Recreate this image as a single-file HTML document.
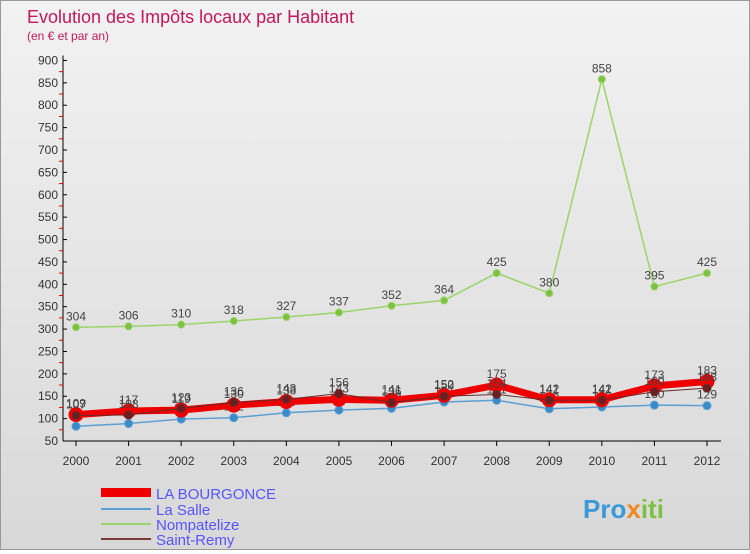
<!DOCTYPE html>
<html><head><meta charset="utf-8"><style>
body{margin:0;width:750px;height:550px;overflow:hidden;font-family:"Liberation Sans",sans-serif}
#wrap{position:relative;width:748px;height:548px;border:1px solid #999;background:linear-gradient(#f2f2f2,#d8d8d8)}
</style></head><body><div id="wrap">
<svg id="svg" width="748" height="548" xmlns="http://www.w3.org/2000/svg">
<text x="26" y="22" font-size="18" fill="#c2185b">Evolution des Impôts locaux par Habitant</text>
<text x="26" y="39" font-size="12" fill="#c2185b">(en € et par an)</text>
<g id="axes"></g><g id="series"></g>
<g>
<rect x="100" y="487" width="50" height="9" fill="#e00"/>
<text x="155" y="498" font-size="15" fill="#55f">LA BOURGONCE</text>
<rect x="100" y="507" width="50" height="2" fill="#5b9fd4"/>
<text x="155" y="514" font-size="15" fill="#55f">La Salle</text>
<rect x="100" y="522" width="50" height="2" fill="#9bd46a"/>
<text x="155" y="529" font-size="15" fill="#55f">Nompatelize</text>
<rect x="100" y="537" width="50" height="2" fill="#7a3a3a"/>
<text x="155" y="544" font-size="15" fill="#55f">Saint-Remy</text>
</g>
<text x="582" y="517" font-size="26" font-weight="bold" fill="#3a9ad9">Pro<tspan fill="#f08a1c">x</tspan><tspan fill="#7cc142">iti</tspan></text>
</svg></div>
<script>
const years=[2000,2001,2002,2003,2004,2005,2006,2007,2008,2009,2010,2011,2012];
const yTicks=[50,100,150,200,250,300,350,400,450,500,550,600,650,700,750,800,850,900];
const laBourgonce=[109,117,119,130,138,143,141,152,175,142,142,173,183];
const laSalle=[83,89,99,102,113,119,123,137,141,122,126,130,129];
const nompatelize=[304,306,310,318,327,337,352,364,425,380,858,395,425];
const saintRemy=[107,108,123,136,143,156,136,150,154,141,141,160,168];
const NS="http://www.w3.org/2000/svg";
const X=i=>75+i*(631/12);
const Y=v=>440-(v-50)*0.4477;
function mk(tag,attrs,parent){const e=document.createElementNS(NS,tag);for(const k in attrs)e.setAttribute(k,attrs[k]);parent.appendChild(e);return e;}
const ax=document.getElementById('axes');
let a=mk('line',{x1:62,y1:Y(900)-5,x2:62,y2:Y(50),stroke:'#000'},ax);


a=mk('line',{x1:62,y1:Y(50),x2:720,y2:Y(50),stroke:'#000'},ax);


yTicks.forEach(v=>{
 mk('line',{x1:62,y1:Y(v),x2:66,y2:Y(v),stroke:'#000'},ax);
 if(v<900)mk('line',{x1:58,y1:Y(v+25),x2:62,y2:Y(v+25),stroke:'#e00'},ax);
 const t=mk('text',{x:57,y:Y(v)+4,'font-size':12,'text-anchor':'end',fill:'#333'},ax);t.textContent=v;
 
 
});
years.forEach((y,i)=>{
 mk('line',{x1:X(i),y1:Y(50),x2:X(i),y2:Y(50)+5,stroke:'#000'},ax);
 const t=mk('text',{x:X(i),y:Y(50)+24,'font-size':12,'text-anchor':'middle',fill:'#333'},ax);t.textContent=y;
 
 
});
const sg=document.getElementById('series');
function series(vals,name,color,w,r,fill){
 const g=mk('g',{},sg);
 
 
 const p=mk('polyline',{points:vals.map((v,i)=>X(i)+','+Y(v)).join(' '),fill:'none',stroke:color,'stroke-width':w},g);
 
 
 vals.forEach((v,i)=>{
  const c=mk('circle',{cx:X(i),cy:Y(v),r:r,fill:fill,stroke:color},g);
  
  
  const t=mk('text',{x:X(i),y:Y(v)-7,'font-size':12,'text-anchor':'middle',fill:'#444'},g);t.textContent=v;
  
  
 });
}
series(nompatelize,'nompatelize','#9bd46a',1.5,3.5,'#7cc142');
series(laSalle,'la-salle','#5b9fd4',1.5,4,'#3a8cc8');
series(laBourgonce,'la-bourgonce','#e00',7,7,'#e00');
series(saintRemy,'saint-remy','#6a2a2a',1,4,'#6a2020');
</script></body></html>
